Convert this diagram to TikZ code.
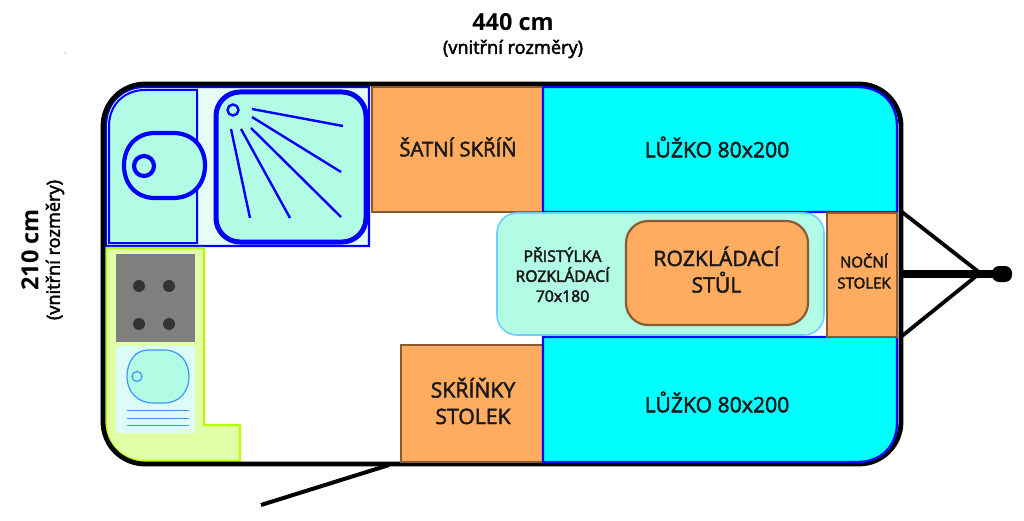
\documentclass[tikz,border=0pt]{standalone}
\usepackage{fontspec}
\setmainfont{Open Sans}
\newfontfamily\semif{Open Sans}
\definecolor{mint}{HTML}{B2FBE4}
\definecolor{pale}{HTML}{E6FDF6}
\definecolor{wood}{HTML}{FFAB60}
\definecolor{woodline}{HTML}{8A5A33}
\definecolor{bedblue}{HTML}{0A0AF0}
\definecolor{bedfill}{HTML}{00FFFF}
\definecolor{kitchen}{HTML}{E1FFA5}
\definecolor{kitchenline}{HTML}{B4FF00}
\definecolor{sinkline}{HTML}{3C96FF}
\definecolor{sinkpanel}{HTML}{DCFDF7}
\definecolor{hob}{HTML}{7F7F7F}
\definecolor{ringc}{HTML}{333333}
\definecolor{sofa}{HTML}{6FD0FF}
\tikzset{
  woodbox/.style={fill=wood,draw=woodline,line width=2.2pt},
  bedbox/.style={fill=bedfill,draw=bedblue,line width=2.4pt},
  ray/.style={draw=blue,line width=2.4pt},
  frame/.style={draw=black,line width=4.8pt},
  tow/.style={draw=black,line width=3.8pt},
  sinkl/.style={draw=sinkline,line width=1.2pt},
  heavy/.style={execute at begin node={\special{pdf:code 2 Tr 0.45 w}}},
  txt/.style={heavy,font=\semif\fontsize{21.2}{26.5}\selectfont,align=center,text=black!90},
  txts/.style={heavy,font=\semif\fontsize{15.8}{20}\selectfont,align=center,text=black!90},
  txtxs/.style={heavy,font=\semif\fontsize{15}{21}\selectfont,align=center,text=black!90},
  dimt/.style={heavy,font=\semif\fontsize{18.2}{20}\selectfont}
}
\begin{document}
\begin{tikzpicture}[x=1pt,y=-1pt]
\useasboundingbox (0,0) rectangle (1024,521);
% hitch
\coordinate (apex) at (980,273);
\coordinate (hitchT) at (902,212);
\coordinate (hitchB) at (902,336);
\draw[tow] (hitchT) -- (apex) -- (hitchB);
\draw[black,line width=8pt] (902,274) -- (1000,274);
\fill[black,rounded corners=7pt] (992,266) rectangle (1012,282);
% door
\coordinate (doorA) at (261,505);
\coordinate (doorB) at (389,465);
\draw[black,line width=4pt] (doorA) -- (doorB);
% bathroom
\draw[fill=pale,draw=blue,line width=2.2pt] (106,246) -- (106,126) .. controls (106,103) and (122,87) .. (145,87) -- (369,87) -- (369,246) -- cycle;
\draw[fill=mint,draw=blue,line width=2pt] (109,243) -- (109,126) .. controls (109,105) and (124,90) .. (145,90) -- (197,90) -- (197,243) -- cycle;
\draw[draw=blue,fill=mint,line width=4.2pt] (155,133) -- (173,133) .. controls (193,133) and (205,147) .. (205,165.5) .. controls (205,184) and (193,198) .. (173,198) -- (155,198) .. controls (136,198) and (124,184) .. (124,165.5) .. controls (124,147) and (136,133) .. (155,133) -- cycle;
\draw[draw=blue,line width=4.2pt] (144,166) circle[radius=10];
\draw[draw=blue,fill=mint,rounded corners=24pt,line width=5pt] (216,92) rectangle (366,242);
\draw[ray] (233,110) circle[radius=5.5];
\draw[ray] (252,109) -- (343,126);
\draw[ray] (252,117) -- (341,172);
\draw[ray] (251,128) -- (341,217);
\draw[ray] (241,129) -- (290,218);
\draw[ray] (231,129) -- (250,218);
% kitchen
\draw[fill=kitchen,draw=kitchenline,line width=2.2pt] (106,248) -- (204,248) -- (204,425) -- (240,425) -- (240,461) -- (144,461) .. controls (122,461) and (106,444) .. (106,424) -- cycle;
\fill[hob] (116,254) rectangle (195,342);
\foreach \n/\cx/\cy in {a/139/286,b/169/286,c/139/324,d/169/324}
  \fill[ringc] (\cx,\cy) circle[radius=6];
\fill[sinkpanel] (116,346) rectangle (195,433);
\draw[sinkl,fill=mint] (148,350) -- (164,350) .. controls (180,350) and (189,362) .. (189,376.5) .. controls (189,391) and (180,403) .. (164,403) -- (153,403) .. controls (137,403) and (127,391) .. (127,376.5) .. controls (127,362) and (135,350) .. (148,350) -- cycle;
\draw[sinkl] (137,376.5) circle[radius=5];
\foreach \ly in {410.5,418.5,425.5}
  \draw[sinkl] (127,\ly) -- (189,\ly);
% frame
\draw[frame,rounded corners=42pt] (103,84) rectangle (901,464);
% closets and beds
\node[woodbox,minimum width=171pt,minimum height=125pt,inner sep=0pt] (satni) at (457.5,149.5) {};
\node[txt,font=\semif\fontsize{20.3}{26.5}\selectfont] (satnit) at (458,147) {ŠATNÍ SKŘÍŇ};
\node[woodbox,minimum width=142pt,minimum height=117pt,inner sep=0pt] (skrinky) at (472,403.5) {};
\node[txt] (skrinkyt) at (473,401) {SKŘÍŇKY\\STOLEK};
\draw[bedbox] (543,87) -- (858,87) .. controls (881,87) and (897,103) .. (897,126) -- (897,212) -- (543,212) -- cycle;
\node[txt] (luzko1) at (717,147) {LŮŽKO 80x200};
\draw[bedbox] (543,337) -- (897,337) -- (897,423) .. controls (897,446) and (881,462) .. (858,462) -- (543,462) -- cycle;
\node[txt] (luzko2) at (717,402) {LŮŽKO 80x200};
\node[fill=mint,draw=sofa,line width=1.6pt,rounded corners=20pt,minimum width=327pt,minimum height=122pt,inner sep=0pt] (pristylka) at (660.5,274) {};
\node[txts] (pristylkat) at (562.5,274.5) {PŘISTÝLKA\\ROZKLÁDACÍ\\70x180};
\node[woodbox,rounded corners=22pt,minimum width=182pt,minimum height=104pt,inner sep=0pt] (stul) at (717,273) {};
\node[txt] (stult) at (716.5,269.5) {ROZKLÁDACÍ\\STŮL};
\node[woodbox,minimum width=70pt,minimum height=124pt,inner sep=0pt] (nocni) at (862,275) {};
\node[txtxs] (nocnit) at (864,271) {NOČNÍ\\STOLEK};
% dimensions
\node[font=\bfseries\fontsize{23.5}{27}\selectfont] (w) at (513,22) {440 cm};
\node[dimt] (wn) at (513,49) {(vnitřní rozměry)};
\node[font=\bfseries\fontsize{23.5}{27}\selectfont,rotate=90] (h) at (30,250) {210 cm};
\node[dimt,rotate=90] (hn) at (55,250) {(vnitřní rozměry)};
\fill[cyan!70!blue] (65,53) circle[radius=0.6];
\end{tikzpicture}
\end{document}
